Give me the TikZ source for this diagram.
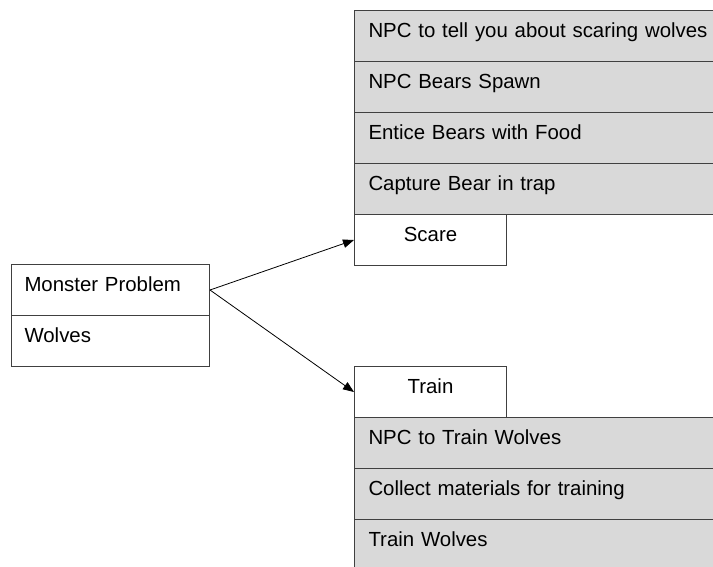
\documentclass[tikz,border=0pt]{standalone}
\usepackage{fontspec}
\setmainfont{Liberation Sans}
\usetikzlibrary{arrows.meta}
\definecolor{rowgray}{HTML}{D9D9D9}
\definecolor{edgegray}{HTML}{404040}
\begin{document}
\begin{tikzpicture}[x=1pt,y=-1pt,
  font=\fontsize{20.4}{24}\selectfont,
  cell/.style={draw=edgegray, line width=1pt, anchor=north west,
    inner xsep=14pt, inner ysep=0pt, text height=27pt, text depth=24pt},
  wide/.style={cell, fill=rowgray, text width=343pt, align=left},
  head/.style={cell, fill=white, text width=124pt, align=center},
  side/.style={cell, fill=white, inner xsep=13pt, text width=172pt, align=left},
  link/.style={draw=black, line width=0.8pt, -{Triangle[length=11pt,width=8.5pt]}}]
\useasboundingbox (0,0) rectangle (713,566);

% scare branch
\node[wide] (t1) at (354,10) {NPC to tell you about scaring wolves};
\node[wide] (t2) at (354,61) {NPC Bears Spawn};
\node[wide] (t3) at (354,112) {Entice Bears with Food};
\node[wide] (t4) at (354,163) {Capture Bear in trap};
\node[head] (scare) at (354,214) {Scare};

% root
\node[side] (mp) at (11,264) {Monster Problem};
\node[side] (wolves) at (11,315) {Wolves};

% train branch
\node[head] (train) at (354,366) {Train};
\node[wide] (b1) at (354,417) {NPC to Train Wolves};
\node[wide] (b2) at (354,468) {Collect materials for training};
\node[wide] (b3) at (354,519) {Train Wolves};

\draw[link] (mp.east) -- (scare.west);
\draw[link] (mp.east) -- (train.west);
\end{tikzpicture}
\end{document}
